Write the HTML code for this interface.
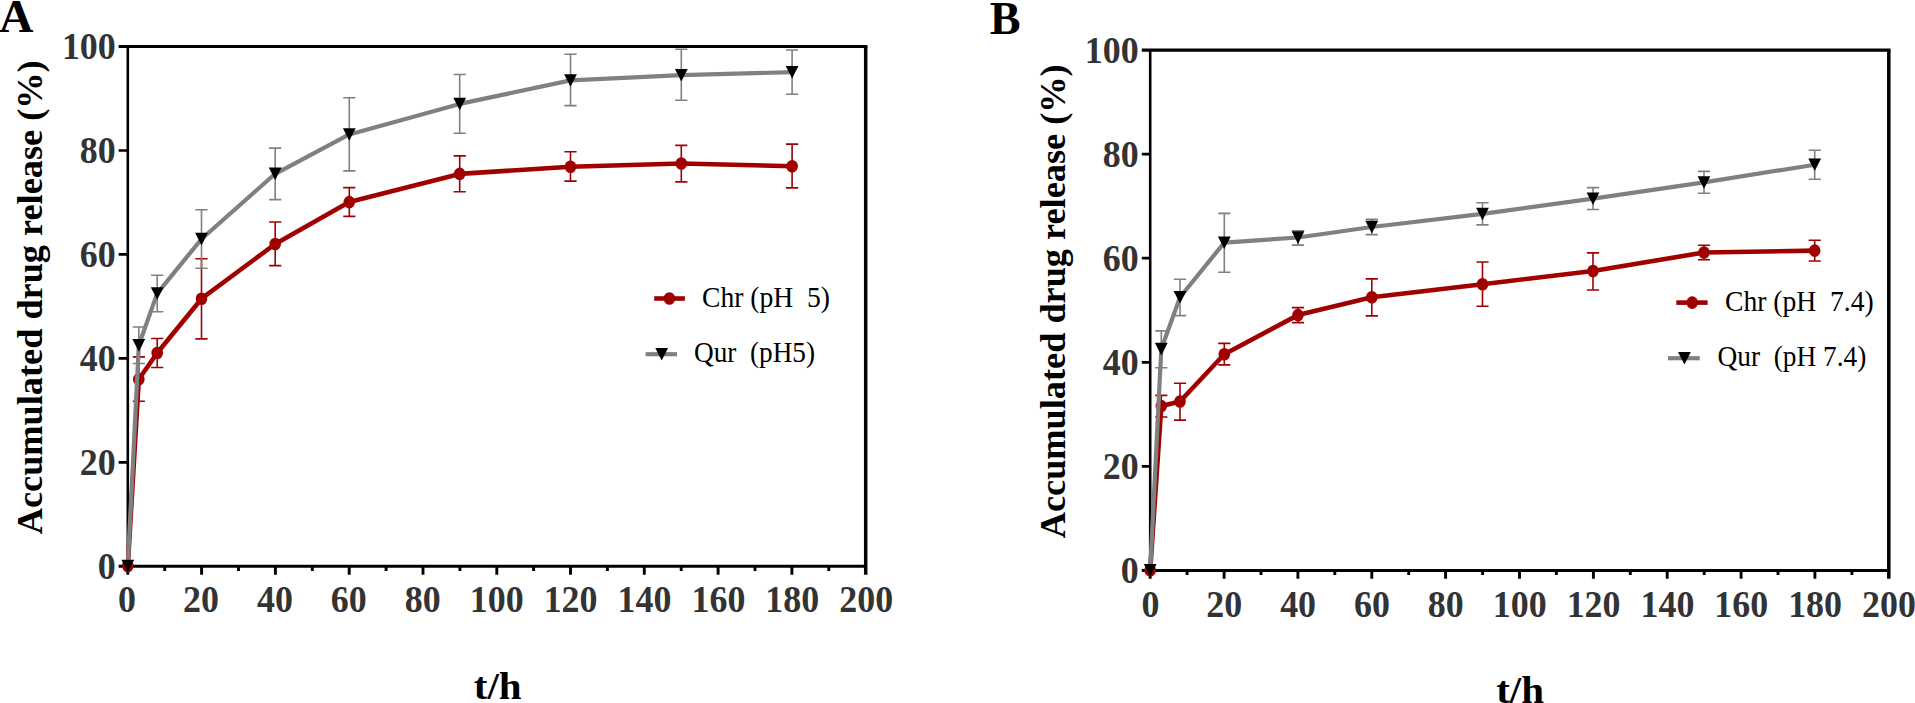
<!DOCTYPE html>
<html lang="en">
<head>
<meta charset="utf-8">
<title>Accumulated drug release</title>
<style>
html,body{margin:0;padding:0;background:#fff;}
body{width:1915px;height:703px;overflow:hidden;}
svg{display:block;}
text{font-family:"Liberation Serif","Times New Roman",serif;}
.tk{font-weight:bold;font-size:37px;fill:#333;}
.ti{font-weight:bold;font-size:37px;fill:#000;}
.lg{font-size:29px;fill:#000;white-space:pre;}
.pl{font-weight:bold;font-size:46.7px;fill:#000;}
</style>
</head>
<body>
<svg width="1915" height="703" viewBox="0 0 1915 703">
<rect width="1915" height="703" fill="#fff"/>
<g id="panelA">
<path d="M118.6 46.5H867.4" stroke="#000" stroke-width="3.2" fill="none"/>
<path d="M865.7 46.5V574.7" stroke="#000" stroke-width="3.5" fill="none"/>
<path d="M127.8 46.5V567.8" stroke="#000" stroke-width="2.6" fill="none"/>
<path d="M118.6 566.3H865.7" stroke="#000" stroke-width="3" fill="none"/>
<path d="M118.6 462.3H127.8M118.6 358.4H127.8M118.6 254.4H127.8M118.6 150.5H127.8" stroke="#000" stroke-width="2.7" fill="none"/>
<path d="M127.8 566.3v8.4M201.6 566.3v8.4M275.4 566.3v8.4M349.2 566.3v8.4M423 566.3v8.4M496.8 566.3v8.4M570.5 566.3v8.4M644.3 566.3v8.4M718.1 566.3v8.4M791.9 566.3v8.4" stroke="#000" stroke-width="2.9" fill="none"/>
<path d="M164.7 566.3v4.6M238.5 566.3v4.6M312.3 566.3v4.6M386.1 566.3v4.6M459.9 566.3v4.6M533.6 566.3v4.6M607.4 566.3v4.6M681.2 566.3v4.6M755 566.3v4.6M828.8 566.3v4.6" stroke="#000" stroke-width="2.9" fill="none"/>
<path d="M138.8 356.9V401.3M132.7 356.9h12.2M132.7 401.3h12.2" stroke="#a00000" stroke-width="1.6" fill="none"/>
<path d="M157.2 338.5V367.5M151.1 338.5h12.2M151.1 367.5h12.2" stroke="#a00000" stroke-width="1.6" fill="none"/>
<path d="M201.5 258.7V338.9M195.4 258.7h12.2M195.4 338.9h12.2" stroke="#a00000" stroke-width="1.6" fill="none"/>
<path d="M275.2 222V265.6M269.1 222h12.2M269.1 265.6h12.2" stroke="#a00000" stroke-width="1.6" fill="none"/>
<path d="M349.3 187.6V216.4M343.2 187.6h12.2M343.2 216.4h12.2" stroke="#a00000" stroke-width="1.6" fill="none"/>
<path d="M459.7 155.9V191.7M453.6 155.9h12.2M453.6 191.7h12.2" stroke="#a00000" stroke-width="1.6" fill="none"/>
<path d="M570.5 151.8V181.1M564.4 151.8h12.2M564.4 181.1h12.2" stroke="#a00000" stroke-width="1.6" fill="none"/>
<path d="M681.3 145.4V181.9M675.2 145.4h12.2M675.2 181.9h12.2" stroke="#a00000" stroke-width="1.6" fill="none"/>
<path d="M792.1 144.1V187.9M786 144.1h12.2M786 187.9h12.2" stroke="#a00000" stroke-width="1.6" fill="none"/>
<path d="M127.8 566L138.8 379.2L157.2 353L201.5 298.7L275.2 244L349.3 202.1L459.7 173.9L570.5 166.7L681.3 163.5L792.1 166.2" stroke="#a00000" stroke-width="4.6" fill="none" stroke-linejoin="round"/>
<ellipse cx="127.8" cy="566" rx="5.8" ry="6.3" fill="#a00000"/>
<ellipse cx="138.8" cy="379.2" rx="5.8" ry="6.3" fill="#a00000"/>
<ellipse cx="157.2" cy="353" rx="5.8" ry="6.3" fill="#a00000"/>
<ellipse cx="201.5" cy="298.7" rx="5.8" ry="6.3" fill="#a00000"/>
<ellipse cx="275.2" cy="244" rx="5.8" ry="6.3" fill="#a00000"/>
<ellipse cx="349.3" cy="202.1" rx="5.8" ry="6.3" fill="#a00000"/>
<ellipse cx="459.7" cy="173.9" rx="5.8" ry="6.3" fill="#a00000"/>
<ellipse cx="570.5" cy="166.7" rx="5.8" ry="6.3" fill="#a00000"/>
<ellipse cx="681.3" cy="163.5" rx="5.8" ry="6.3" fill="#a00000"/>
<ellipse cx="792.1" cy="166.2" rx="5.8" ry="6.3" fill="#a00000"/>
<path d="M138.8 327V363.5M132.7 327h12.2M132.7 363.5h12.2" stroke="#808080" stroke-width="1.6" fill="none"/>
<path d="M157.2 275.3V311.7M151.1 275.3h12.2M151.1 311.7h12.2" stroke="#808080" stroke-width="1.6" fill="none"/>
<path d="M201.5 209.8V268.3M195.4 209.8h12.2M195.4 268.3h12.2" stroke="#808080" stroke-width="1.6" fill="none"/>
<path d="M275.2 148.1V199.6M269.1 148.1h12.2M269.1 199.6h12.2" stroke="#808080" stroke-width="1.6" fill="none"/>
<path d="M349.3 97.8V170.9M343.2 97.8h12.2M343.2 170.9h12.2" stroke="#808080" stroke-width="1.6" fill="none"/>
<path d="M459.7 74.5V133.3M453.6 74.5h12.2M453.6 133.3h12.2" stroke="#808080" stroke-width="1.6" fill="none"/>
<path d="M570.5 54.3V105.6M564.4 54.3h12.2M564.4 105.6h12.2" stroke="#808080" stroke-width="1.6" fill="none"/>
<path d="M681.3 49.3V100.3M675.2 49.3h12.2M675.2 100.3h12.2" stroke="#808080" stroke-width="1.6" fill="none"/>
<path d="M792.1 50V94.3M786 50h12.2M786 94.3h12.2" stroke="#808080" stroke-width="1.6" fill="none"/>
<path d="M127.8 566L138.8 345.3L157.2 293.4L201.5 239L275.2 173.8L349.3 134.4L459.7 103.9L570.5 80.4L681.3 75.2L792.1 72.2" stroke="#808080" stroke-width="4.2" fill="none" stroke-linejoin="round"/>
<path d="M121.4 559.8h12.8L127.8 572.4z" fill="#000"/>
<path d="M132.4 339.1h12.8L138.8 351.7z" fill="#000"/>
<path d="M150.8 287.2h12.8L157.2 299.8z" fill="#000"/>
<path d="M195.1 232.8h12.8L201.5 245.4z" fill="#000"/>
<path d="M268.8 167.6h12.8L275.2 180.2z" fill="#000"/>
<path d="M342.9 128.2h12.8L349.3 140.8z" fill="#000"/>
<path d="M453.3 97.7h12.8L459.7 110.3z" fill="#000"/>
<path d="M564.1 74.2h12.8L570.5 86.8z" fill="#000"/>
<path d="M674.9 69h12.8L681.3 81.6z" fill="#000"/>
<path d="M785.7 66h12.8L792.1 78.6z" fill="#000"/>
<text class="tk" text-anchor="end" transform="translate(115.8 579) scale(0.972 1)">0</text>
<text class="tk" text-anchor="end" transform="translate(115.8 475) scale(0.972 1)">20</text>
<text class="tk" text-anchor="end" transform="translate(115.8 371.1) scale(0.972 1)">40</text>
<text class="tk" text-anchor="end" transform="translate(115.8 267.1) scale(0.972 1)">60</text>
<text class="tk" text-anchor="end" transform="translate(115.8 163.2) scale(0.972 1)">80</text>
<text class="tk" text-anchor="end" transform="translate(115.8 59.2) scale(0.972 1)">100</text>
<text class="tk" text-anchor="middle" transform="translate(127.1 612.3) scale(0.972 1)">0</text>
<text class="tk" text-anchor="middle" transform="translate(201 612.3) scale(0.972 1)">20</text>
<text class="tk" text-anchor="middle" transform="translate(274.9 612.3) scale(0.972 1)">40</text>
<text class="tk" text-anchor="middle" transform="translate(348.8 612.3) scale(0.972 1)">60</text>
<text class="tk" text-anchor="middle" transform="translate(422.7 612.3) scale(0.972 1)">80</text>
<text class="tk" text-anchor="middle" transform="translate(496.7 612.3) scale(0.972 1)">100</text>
<text class="tk" text-anchor="middle" transform="translate(570.6 612.3) scale(0.972 1)">120</text>
<text class="tk" text-anchor="middle" transform="translate(644.5 612.3) scale(0.972 1)">140</text>
<text class="tk" text-anchor="middle" transform="translate(718.4 612.3) scale(0.972 1)">160</text>
<text class="tk" text-anchor="middle" transform="translate(792.3 612.3) scale(0.972 1)">180</text>
<text class="tk" text-anchor="middle" transform="translate(866.2 612.3) scale(0.972 1)">200</text>
<text class="ti" text-anchor="middle" transform="translate(41.7 297.3) rotate(-90) scale(0.981 0.945)">Accumulated drug release (%)</text>
<text class="ti" text-anchor="middle" transform="translate(497.7 698.8) scale(1.085 1)" style="font-size:37.8px">t/h</text>
<text class="pl" transform="translate(-1 31.5) scale(1.02 1)">A</text>
<path d="M654.2 298.5H684.9" stroke="#a00000" stroke-width="4.6"/><ellipse cx="669.4" cy="298.5" rx="5.8" ry="6.3" fill="#a00000"/>
<text class="lg" transform="translate(702 306.9) scale(0.952 1)" xml:space="preserve">Chr (pH  5)</text>
<path d="M645.6 354.2H677" stroke="#808080" stroke-width="4.2"/><path d="M655.3 348h12.8L661.7 360.6z" fill="#000"/>
<text class="lg" transform="translate(694 362.1) scale(0.94 1)" xml:space="preserve">Qur  (pH5)</text>
</g>
<g id="panelB">
<path d="M1141.8 50.1H1890.5" stroke="#000" stroke-width="3.2" fill="none"/>
<path d="M1888.8 50.1V578.8" stroke="#000" stroke-width="3.5" fill="none"/>
<path d="M1150.2 50.1V571.9" stroke="#000" stroke-width="2.6" fill="none"/>
<path d="M1141.8 570.4H1888.8" stroke="#000" stroke-width="3" fill="none"/>
<path d="M1141.8 466.3H1150.2M1141.8 362.3H1150.2M1141.8 258.2H1150.2M1141.8 154.2H1150.2" stroke="#000" stroke-width="2.7" fill="none"/>
<path d="M1150.2 570.4v8.4M1224.1 570.4v8.4M1297.9 570.4v8.4M1371.8 570.4v8.4M1445.6 570.4v8.4M1519.5 570.4v8.4M1593.4 570.4v8.4M1667.2 570.4v8.4M1741.1 570.4v8.4M1814.9 570.4v8.4" stroke="#000" stroke-width="2.9" fill="none"/>
<path d="M1187.1 570.4v4.6M1261 570.4v4.6M1334.8 570.4v4.6M1408.7 570.4v4.6M1482.6 570.4v4.6M1556.4 570.4v4.6M1630.3 570.4v4.6M1704.2 570.4v4.6M1778 570.4v4.6M1851.9 570.4v4.6" stroke="#000" stroke-width="2.9" fill="none"/>
<path d="M1161.3 395.4V417M1155.2 395.4h12.2M1155.2 417h12.2" stroke="#a00000" stroke-width="1.6" fill="none"/>
<path d="M1180 383.2V420.1M1173.9 383.2h12.2M1173.9 420.1h12.2" stroke="#a00000" stroke-width="1.6" fill="none"/>
<path d="M1224.3 343.4V364.9M1218.2 343.4h12.2M1218.2 364.9h12.2" stroke="#a00000" stroke-width="1.6" fill="none"/>
<path d="M1298 307.6V322.6M1291.9 307.6h12.2M1291.9 322.6h12.2" stroke="#a00000" stroke-width="1.6" fill="none"/>
<path d="M1371.8 278.9V315.9M1365.7 278.9h12.2M1365.7 315.9h12.2" stroke="#a00000" stroke-width="1.6" fill="none"/>
<path d="M1482.5 262V306.3M1476.4 262h12.2M1476.4 306.3h12.2" stroke="#a00000" stroke-width="1.6" fill="none"/>
<path d="M1593 252.9V290M1586.9 252.9h12.2M1586.9 290h12.2" stroke="#a00000" stroke-width="1.6" fill="none"/>
<path d="M1704 245.2V259.8M1697.9 245.2h12.2M1697.9 259.8h12.2" stroke="#a00000" stroke-width="1.6" fill="none"/>
<path d="M1814.7 240.3V261M1808.6 240.3h12.2M1808.6 261h12.2" stroke="#a00000" stroke-width="1.6" fill="none"/>
<path d="M1150.2 570.2L1161.3 406.1L1180 401.5L1224.3 354.2L1298 315.1L1371.8 297.2L1482.5 284.2L1593 271L1704 252.5L1814.7 250.6" stroke="#a00000" stroke-width="4.6" fill="none" stroke-linejoin="round"/>
<ellipse cx="1150.2" cy="570.2" rx="5.8" ry="6.3" fill="#a00000"/>
<ellipse cx="1161.3" cy="406.1" rx="5.8" ry="6.3" fill="#a00000"/>
<ellipse cx="1180" cy="401.5" rx="5.8" ry="6.3" fill="#a00000"/>
<ellipse cx="1224.3" cy="354.2" rx="5.8" ry="6.3" fill="#a00000"/>
<ellipse cx="1298" cy="315.1" rx="5.8" ry="6.3" fill="#a00000"/>
<ellipse cx="1371.8" cy="297.2" rx="5.8" ry="6.3" fill="#a00000"/>
<ellipse cx="1482.5" cy="284.2" rx="5.8" ry="6.3" fill="#a00000"/>
<ellipse cx="1593" cy="271" rx="5.8" ry="6.3" fill="#a00000"/>
<ellipse cx="1704" cy="252.5" rx="5.8" ry="6.3" fill="#a00000"/>
<ellipse cx="1814.7" cy="250.6" rx="5.8" ry="6.3" fill="#a00000"/>
<path d="M1161.3 330.9V367.7M1155.2 330.9h12.2M1155.2 367.7h12.2" stroke="#808080" stroke-width="1.6" fill="none"/>
<path d="M1180 279.3V315.6M1173.9 279.3h12.2M1173.9 315.6h12.2" stroke="#808080" stroke-width="1.6" fill="none"/>
<path d="M1224.3 213.4V272.3M1218.2 213.4h12.2M1218.2 272.3h12.2" stroke="#808080" stroke-width="1.6" fill="none"/>
<path d="M1298 230.7V245.1M1291.9 230.7h12.2M1291.9 245.1h12.2" stroke="#808080" stroke-width="1.6" fill="none"/>
<path d="M1371.8 219.4V234.6M1365.7 219.4h12.2M1365.7 234.6h12.2" stroke="#808080" stroke-width="1.6" fill="none"/>
<path d="M1482.5 202.8V224.9M1476.4 202.8h12.2M1476.4 224.9h12.2" stroke="#808080" stroke-width="1.6" fill="none"/>
<path d="M1593 187.6V209.5M1586.9 187.6h12.2M1586.9 209.5h12.2" stroke="#808080" stroke-width="1.6" fill="none"/>
<path d="M1704 171.4V193.3M1697.9 171.4h12.2M1697.9 193.3h12.2" stroke="#808080" stroke-width="1.6" fill="none"/>
<path d="M1814.7 150.2V179.3M1808.6 150.2h12.2M1808.6 179.3h12.2" stroke="#808080" stroke-width="1.6" fill="none"/>
<path d="M1150.2 570.2L1161.3 349L1180 297.2L1224.3 242.6L1298 237.5L1371.8 227L1482.5 213.9L1593 198.6L1704 182.4L1814.7 164.7" stroke="#808080" stroke-width="4.2" fill="none" stroke-linejoin="round"/>
<path d="M1143.8 564h12.8L1150.2 576.6z" fill="#000"/>
<path d="M1154.9 342.8h12.8L1161.3 355.4z" fill="#000"/>
<path d="M1173.6 291h12.8L1180 303.6z" fill="#000"/>
<path d="M1217.9 236.4h12.8L1224.3 249z" fill="#000"/>
<path d="M1291.6 231.3h12.8L1298 243.9z" fill="#000"/>
<path d="M1365.4 220.8h12.8L1371.8 233.4z" fill="#000"/>
<path d="M1476.1 207.7h12.8L1482.5 220.3z" fill="#000"/>
<path d="M1586.6 192.4h12.8L1593 205z" fill="#000"/>
<path d="M1697.6 176.2h12.8L1704 188.8z" fill="#000"/>
<path d="M1808.3 158.5h12.8L1814.7 171.1z" fill="#000"/>
<text class="tk" text-anchor="end" transform="translate(1138.6 583.4) scale(0.972 1)">0</text>
<text class="tk" text-anchor="end" transform="translate(1138.6 479.3) scale(0.972 1)">20</text>
<text class="tk" text-anchor="end" transform="translate(1138.6 375.3) scale(0.972 1)">40</text>
<text class="tk" text-anchor="end" transform="translate(1138.6 271.2) scale(0.972 1)">60</text>
<text class="tk" text-anchor="end" transform="translate(1138.6 167.2) scale(0.972 1)">80</text>
<text class="tk" text-anchor="end" transform="translate(1138.6 63.1) scale(0.972 1)">100</text>
<text class="tk" text-anchor="middle" transform="translate(1150.4 616.8) scale(0.972 1)">0</text>
<text class="tk" text-anchor="middle" transform="translate(1224.3 616.8) scale(0.972 1)">20</text>
<text class="tk" text-anchor="middle" transform="translate(1298.1 616.8) scale(0.972 1)">40</text>
<text class="tk" text-anchor="middle" transform="translate(1372 616.8) scale(0.972 1)">60</text>
<text class="tk" text-anchor="middle" transform="translate(1445.8 616.8) scale(0.972 1)">80</text>
<text class="tk" text-anchor="middle" transform="translate(1519.7 616.8) scale(0.972 1)">100</text>
<text class="tk" text-anchor="middle" transform="translate(1593.6 616.8) scale(0.972 1)">120</text>
<text class="tk" text-anchor="middle" transform="translate(1667.4 616.8) scale(0.972 1)">140</text>
<text class="tk" text-anchor="middle" transform="translate(1741.3 616.8) scale(0.972 1)">160</text>
<text class="tk" text-anchor="middle" transform="translate(1815.1 616.8) scale(0.972 1)">180</text>
<text class="tk" text-anchor="middle" transform="translate(1889 616.8) scale(0.972 1)">200</text>
<text class="ti" text-anchor="middle" transform="translate(1065.1 301.3) rotate(-90) scale(0.981 0.945)">Accumulated drug release (%)</text>
<text class="ti" text-anchor="middle" transform="translate(1520.1 702.8) scale(1.085 1)" style="font-size:37.8px">t/h</text>
<text class="pl" transform="translate(989.8 34.1) scale(0.99 1)">B</text>
<path d="M1676.3 302.6H1707.6" stroke="#a00000" stroke-width="4.6"/><ellipse cx="1692.2" cy="302.6" rx="5.8" ry="6.3" fill="#a00000"/>
<text class="lg" transform="translate(1725 311) scale(0.952 1)" xml:space="preserve">Chr (pH  7.4)</text>
<path d="M1668 358.2H1699.8" stroke="#808080" stroke-width="4.2"/><path d="M1678 352h12.8L1684.4 364.6z" fill="#000"/>
<text class="lg" transform="translate(1717.5 366.1) scale(0.943 1)" xml:space="preserve">Qur  (pH 7.4)</text>
</g>
</svg>
</body>
</html>
